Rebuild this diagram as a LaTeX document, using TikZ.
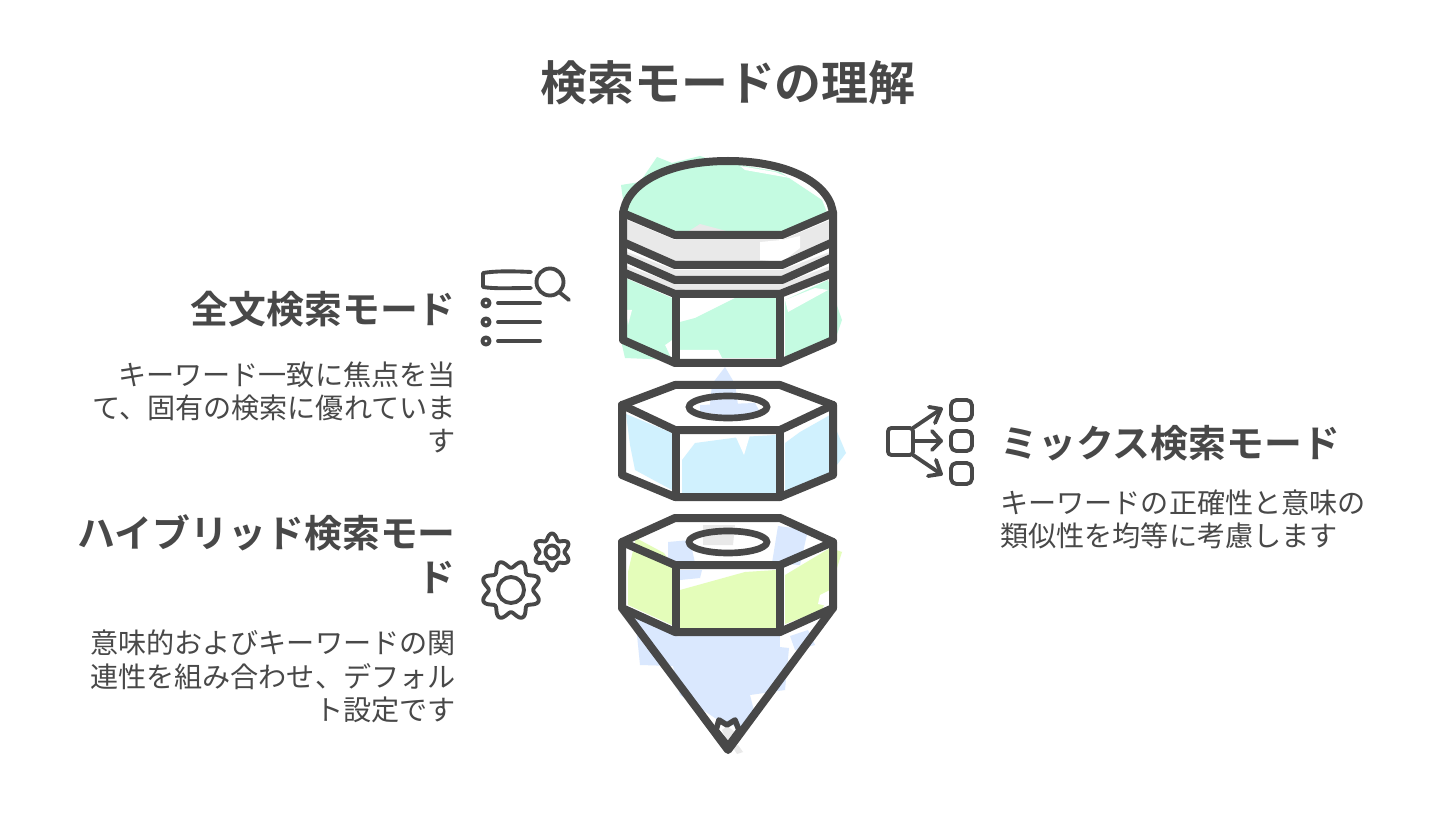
\documentclass[tikz,border=0pt]{standalone}
\usepackage{fontspec}
\setmainfont{Noto Sans CJK JP}[BoldFont={Noto Sans CJK JP Bold}]
\definecolor{ink}{HTML}{484848}
\definecolor{mint}{HTML}{C4FBE1}
\definecolor{sky}{HTML}{D0F1FE}
\definecolor{lime}{HTML}{E4FDBA}
\definecolor{pale}{HTML}{DAE8FE}
\definecolor{grey}{HTML}{E9E9E9}
\tikzset{
  heavy/.style={draw=ink,line width=6pt,line join=round,line cap=round},
  lightline/.style={draw=ink,line width=2.9pt,line join=round,line cap=round},
  titletext/.style={text=ink,font=\fontsize{35.2pt}{40pt}\selectfont\bfseries,inner sep=0pt},
  headtext/.style={text=ink,font=\fontsize{28.4pt}{33pt}\selectfont\bfseries,inner sep=0pt,align=right},
  bodytext/.style={text=ink,font=\fontsize{21.1pt}{25pt}\selectfont,inner sep=0pt,align=right},
  leftbody/.style={bodytext,align=left},
  lefthead/.style={headtext,align=left},
}
\begin{document}
\begin{tikzpicture}[x=0.75pt,y=-0.75pt]
\useasboundingbox (0,0) rectangle (1456,823);
\fill[white] (0,0) rectangle (1456,823);
% patches: top piece
\fill[mint] (657,157) -- (672,163) -- (700,156) -- (712,160) -- (780,172) -- (822,200) -- (828,215) -- (782,235) -- (700,232) -- (675,235) -- (625,214) -- (621,185) -- (640,182) -- cycle;
\fill[white] (740,166) -- (775,172) -- (790,178) -- (745,170) -- cycle;
\fill[grey] (627,220) -- (675,240) -- (700,224) -- (730,232) -- (782,240) -- (830,220) -- (830,245) -- (782,262) -- (675,262) -- (627,243) -- cycle;
\fill[white] (760,242) -- (782,240) -- (800,236) -- (800,248) -- (782,262) -- (760,260) -- cycle;
\fill[grey] (627,252) -- (675,270) -- (782,270) -- (830,252) -- (830,256) -- (782,276) -- (675,276) -- (627,256) -- cycle;
\fill[grey] (627,266) -- (675,284) -- (782,284) -- (830,266) -- (830,270) -- (782,290) -- (675,290) -- (627,270) -- cycle;
\fill[mint] (625,278) -- (672,298) -- (672,340) -- (665,345) -- (672,360) -- (625,358) -- (622,345) -- cycle;
\fill[white] (626,310) -- (632,310) -- (628,325) -- cycle;
\fill[mint] (680,322) -- (695,318) -- (735,298) -- (776,298) -- (776,358) -- (680,358) -- cycle;
\fill[white] (680,358) -- (680,350) -- (718,350) -- (722,358) -- cycle;
\fill[mint] (785,300) -- (828,280) -- (842,320) -- (835,340) -- (785,360) -- cycle;
\fill[white] (785,300) -- (815,288) -- (828,290) -- (788,312) -- cycle;
% patches: centre nut
\fill[pale] (725,367) -- (735,384) -- (738,405) -- (710,405) -- (712,384) -- cycle;
\fill[pale] (700,405) -- (755,403) -- (760,412) -- (730,416) -- (700,412) -- cycle;
\fill[sky] (626,414) -- (672,433) -- (672,490) -- (635,470) -- (630,445) -- cycle;
\fill[sky] (682,460) -- (695,443) -- (740,437) -- (776,435) -- (776,493) -- (682,493) -- cycle;
\fill[sky] (785,443) -- (800,432) -- (830,415) -- (846,453) -- (830,474) -- (785,492) -- cycle;
\fill[white] (735,435) -- (744,455) -- (750,435) -- cycle;
% patches: lower nut
\fill[grey] (703,525) -- (735,525) -- (733,545) -- (703,545) -- cycle;
\fill[pale] (668,542) -- (690,540) -- (695,563) -- (668,563) -- cycle;
\fill[pale] (778,526) -- (808,530) -- (800,565) -- (772,563) -- cycle;
\fill[lime] (636,538) -- (664,553) -- (672,565) -- (672,625) -- (628,605) -- (628,572) -- cycle;
\fill[lime] (680,590) -- (745,572) -- (776,570) -- (776,628) -- (680,628) -- cycle;
\fill[lime] (785,575) -- (830,548) -- (842,552) -- (830,590) -- (822,610) -- (785,624) -- cycle;
\fill[pale] (680,570) -- (702,570) -- (700,578) -- (680,580) -- cycle;
\fill[white] (820,595) -- (830,590) -- (828,606) -- (818,604) -- cycle;
% patches: tip
\fill[pale] (635,615) -- (675,636) -- (789,648) -- (785,690) -- (750,695) -- (755,715) -- (740,728) -- (718,720) -- (680,695) -- (673,666) -- (640,665) -- cycle;
\fill[pale] (790,636) -- (808,630) -- (815,645) -- (795,650) -- cycle;
\fill[pale] (680,636) -- (780,636) -- (780,650) -- (680,650) -- cycle;
\fill[grey] (722,730) -- (727,726) -- (735,732) -- (728,745) -- cycle;
\fill[grey] (733,748) -- (738,745) -- (743,752) -- (737,754) -- cycle;
% top piece outline
\draw[heavy] (623,215) .. controls (625,185) and (665,161) .. (728,161) .. controls (790,161) and (832,185) .. (833,215);
\draw[heavy] (623,212) -- (623,340) -- (675,363) -- (780,363) -- (833,340) -- (833,212);
\draw[heavy] (625,214) -- (675,235) -- (782,235) -- (831,214);
\draw[heavy] (625,243) -- (675,265) -- (782,265) -- (831,243);
\draw[heavy] (625,258) -- (675,280) -- (782,280) -- (831,258);
\draw[heavy] (625,273) -- (675,294) -- (780,294) -- (833,273);
\draw[heavy] (676,294) -- (676,363);
\draw[heavy] (780,294) -- (780,363);
% centre nut outline
\draw[heavy] (622,405) -- (675,385) -- (780,385) -- (833,405) -- (833,475) -- (780,497) -- (675,497) -- (622,475) -- cycle;
\draw[heavy] (622,405) -- (675,430) -- (780,430) -- (833,405);
\draw[heavy] (676,430) -- (676,497);
\draw[heavy] (780,430) -- (780,497);
\draw[draw=ink,line width=5pt] (728,407) ellipse [x radius=39,y radius=11];
% lower nut outline
\draw[heavy] (622,542) -- (675,518) -- (780,518) -- (833,542) -- (833,608) -- (780,632) -- (675,632) -- (622,608) -- cycle;
\draw[heavy] (622,542) -- (675,565) -- (780,565) -- (833,542);
\draw[heavy] (676,565) -- (676,632);
\draw[heavy] (780,565) -- (780,632);
\draw[draw=ink,line width=5pt] (728,542) ellipse [x radius=39,y radius=11];
% tip outline
\draw[heavy] (622,608) -- (728,750) -- (833,608);
\draw[draw=ink,line width=4.2pt,line join=round,line cap=round] (716,730) -- (719,720) -- (727,725) -- (735,720) -- (739,730) -- (728,745) -- cycle;
% list + magnifier icon
\draw[lightline] (531,272) .. controls (510,271) and (495,271) .. (483,273) -- (483,287) .. controls (495,289) and (510,288) .. (531,288);
\draw[lightline] (550,282) circle [radius=13.5];
\draw[lightline] (559,292) -- (569,300);
\draw[lightline] (486,303) circle [radius=3.6];
\draw[lightline] (486,322) circle [radius=3.6];
\draw[lightline] (486,341) circle [radius=3.6];
\draw[lightline] (498,303) -- (540,303);
\draw[lightline] (498,322) -- (540,322);
\draw[lightline] (498,341) -- (540,341);
% gears icon
\draw[lightline,smooth,samples=145,domain=0:360,variable=\t] plot ({511+(26+3.8*cos(8*\t+180))*cos(\t)},{590+(26+3.8*cos(8*\t+180))*sin(\t)}) -- cycle;
\draw[lightline] (511,590) circle [radius=13];
\draw[lightline,smooth,samples=109,domain=0:360,variable=\t] plot ({552+(15.5+3*cos(6*\t+180))*cos(\t)},{552+(15.5+3*cos(6*\t+180))*sin(\t)}) -- cycle;
\draw[lightline] (552,552) circle [radius=6.5];
% distribute icon
\draw[lightline,rounded corners=2.5pt] (888,428) rectangle (913,455);
\draw[lightline,rounded corners=4pt] (951,400) rectangle (972,420);
\draw[lightline,rounded corners=4pt] (951,431) rectangle (972,451);
\draw[lightline,rounded corners=4pt] (951,463) rectangle (972,484);
\draw[lightline] (913,428) -- (941,409);
\draw[lightline] (929,407) -- (941,409) -- (935,423);
\draw[lightline] (913,441) -- (941,441);
\draw[lightline] (932,431) -- (941,441) -- (932,450);
\draw[lightline] (913,455) -- (941,474);
\draw[lightline] (936,460) -- (941,474) -- (928,476);
% texts
\node[titletext] (title) at (728,83) {検索モードの理解};
\node[headtext,anchor=east] (h1) at (456,309) {全文検索モード};
\node[bodytext,anchor=east] (b1a) at (456,375) {キーワード一致に焦点を当};
\node[bodytext,anchor=east] (b1b) at (456,408) {て、固有の検索に優れていま};
\node[bodytext,anchor=east] (b1c) at (456,441) {す};
\node[headtext,anchor=east] (h2a) at (456,533) {ハイブリッド検索モー};
\node[headtext,anchor=east] (h2b) at (456,577) {ド};
\node[bodytext,anchor=east] (b2a) at (456,643) {意味的およびキーワードの関};
\node[bodytext,anchor=east] (b2b) at (456,677) {連性を組み合わせ、デフォル};
\node[bodytext,anchor=east] (b2c) at (456,710) {ト設定です};
\node[lefthead,anchor=west] (h3) at (1000,443) {ミックス検索モード};
\node[leftbody,anchor=west] (b3a) at (1000,503) {キーワードの正確性と意味の};
\node[leftbody,anchor=west] (b3b) at (1000,536) {類似性を均等に考慮します};
\end{tikzpicture}
\end{document}
